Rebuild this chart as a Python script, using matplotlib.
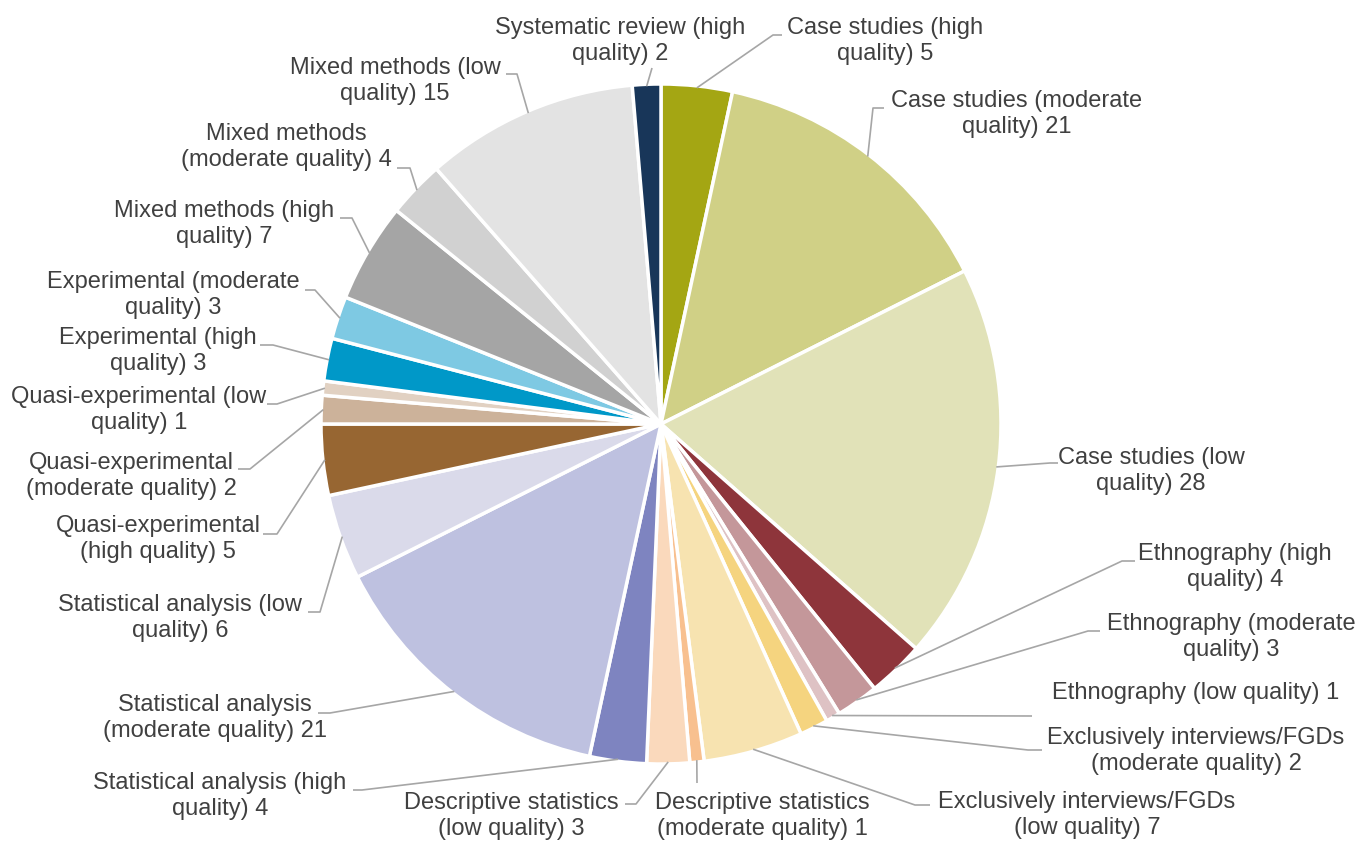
import numpy as np
import matplotlib
matplotlib.use("Agg")
import matplotlib.pyplot as plt

# Study design / quality categories, clockwise from 12 o'clock
categories = [
    "Case studies (high\nquality) 5",
    "Case studies (moderate\nquality) 21",
    "Case studies (low\nquality) 28",
    "Ethnography (high\nquality) 4",
    "Ethnography (moderate\nquality) 3",
    "Ethnography (low quality) 1",
    "Exclusively interviews/FGDs\n(moderate quality) 2",
    "Exclusively interviews/FGDs\n(low quality) 7",
    "Descriptive statistics\n(moderate quality) 1",
    "Descriptive statistics\n(low quality) 3",
    "Statistical analysis (high\nquality) 4",
    "Statistical analysis\n(moderate quality) 21",
    "Statistical analysis (low\nquality) 6",
    "Quasi-experimental\n(high quality) 5",
    "Quasi-experimental\n(moderate quality) 2",
    "Quasi-experimental (low\nquality) 1",
    "Experimental (high\nquality) 3",
    "Experimental (moderate\nquality) 3",
    "Mixed methods (high\nquality) 7",
    "Mixed methods\n(moderate quality) 4",
    "Mixed methods (low\nquality) 15",
    "Systematic review (high\nquality) 2",
]
counts = [5, 21, 28, 4, 3, 1, 2, 7, 1, 3, 4, 21, 6, 5, 2, 1, 3, 3, 7, 4, 15, 2]
colors = [
    "#A4A613", "#D0D086", "#E1E2B8",
    "#8E353B", "#C4979A", "#DEC2C4",
    "#F5D47F", "#F7E3B0",
    "#F8C08F", "#FAD9BC",
    "#7E84C0", "#BEC1E0", "#DADAEA",
    "#976632", "#CCB29A", "#E1D1C2",
    "#0098C8", "#7EC9E3",
    "#A5A5A5", "#D1D1D1", "#E3E3E3",
    "#183659",
]

# layout (pixel coords, y down): label block centre, leader knee, stub end
W, H = 1359, 841
cx, cy, R = 661, 424, 340
label_pos = [
    (885, 41), (1017, 114), (1151, 471), (1235, 567), (1231, 637),
    (1196, 693), (1196, 751), (1087, 815), (762, 816), (511, 816),
    (220, 796), (215, 718), (180, 618), (158, 539), (131, 476),
    (139, 410), (158, 351), (173, 295), (224, 224), (286, 147),
    (395, 81), (620, 41),
]
knees = [
    (773, 35), (873, 108), (1050, 463), (1122, 561), (1088, 631),
    (1032, 716), (1028, 750), (915, 805), (697, 783), (636, 804),
    (362, 790), (330, 713), (320, 612), (277, 534), (250, 469),
    (277, 404), (273, 345), (315, 290), (352, 218), (410, 168),
    (517, 74), (652, 68),
]
stubs = [
    782, 884, 1058, 1135, 1100,
    1032, 1042, 930, 697, 625,
    353, 318, 308, 263, 238,
    267, 260, 305, 340, 397,
    506, 652,
]

fig = plt.figure(figsize=(W / 100, H / 100), dpi=100)
ax = fig.add_axes([0, 0, 1, 1])

ax.pie(counts, colors=colors, startangle=-90, counterclock=True,
       center=(cx, cy), radius=R, frame=True,
       wedgeprops=dict(edgecolor="white", linewidth=2.5))
ax.set_xlim(0, W)
ax.set_ylim(H, 0)
ax.set_aspect("equal")
ax.axis("off")

total = sum(counts)
edges = np.cumsum([0] + counts)
for i, lab in enumerate(categories):
    mid = np.deg2rad(-90 + (edges[i] + edges[i + 1]) / 2 * 360 / total)
    sx, sy = cx + (R - 2) * np.cos(mid), cy + (R - 2) * np.sin(mid)
    kx, ky = knees[i]
    ax.plot([sx, kx, stubs[i]], [sy, ky, ky], color="#A6A6A6", lw=1.2,
            solid_capstyle="butt")
    tx, ty = label_pos[i]
    ax.text(tx, ty, lab, ha="center", va="center", multialignment="center",
            fontsize=17, color="#404040", family="Liberation Sans",
            linespacing=1.27)

fig.savefig("out.png", dpi=100)
